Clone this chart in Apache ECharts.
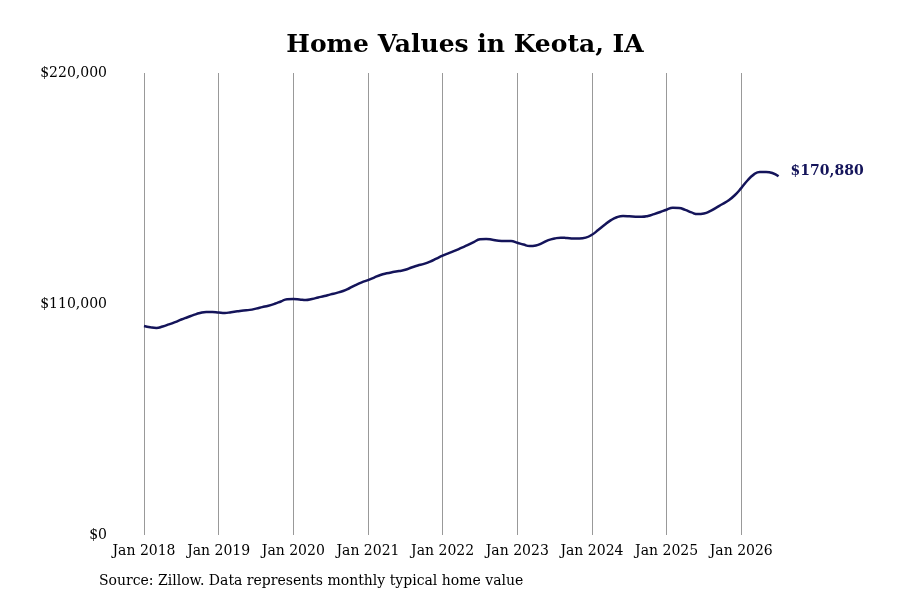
<!DOCTYPE html>
<html><head><meta charset="utf-8">
<script src="https://cdn.jsdelivr.net/npm/echarts@6/dist/echarts.min.js"></script>
<style>html,body{margin:0;padding:0;background:#fff}#c{width:900px;height:600px}</style>
</head><body><div id="c"></div>
<script>
const yearLabels = ["Jan 2018","Jan 2019","Jan 2020","Jan 2021","Jan 2022","Jan 2023","Jan 2024","Jan 2025","Jan 2026"];
const yTicks = [0, 110000, 220000];
const v2018 = [99.5, 98.9, 98.6, 99.3, 100.3, 101.4, 102.6, 103.7, 104.8, 105.7, 106.2, 106.2];
const v2019 = [105.9, 105.7, 106.1, 106.5, 106.9, 107.2, 107.8, 108.5, 109.2, 110.1, 111.2, 112.3];
const v2020 = [112.4, 112.2, 111.9, 112.4, 113.1, 113.8, 114.6, 115.3, 116.2, 117.5, 119.0, 120.3];
const v2021 = [121.4, 122.6, 123.8, 124.6, 125.2, 125.7, 126.3, 127.4, 128.3, 129.1, 130.2, 131.6];
const v2022 = [133.0, 134.2, 135.4, 136.7, 138.0, 139.5, 140.8, 141.0, 140.6, 140.1, 140.0, 140.0];
const v2023 = [139.2, 138.3, 137.6, 137.9, 139.0, 140.4, 141.2, 141.6, 141.4, 141.2, 141.2, 141.6];
const v2024 = [143.0, 145.2, 147.6, 149.8, 151.3, 151.9, 151.8, 151.6, 151.5, 151.9, 152.8, 153.8];
const v2025 = [154.9, 155.8, 155.7, 154.8, 153.6, 152.8, 153.1, 154.2, 155.9, 157.6, 159.4, 161.9];
const v2026 = [165.2, 168.8, 171.6, 172.9, 172.9, 172.4, 170.88];
const values = [].concat(v2018,v2019,v2020,v2021,v2022,v2023,v2024,v2025,v2026).map(v=>Math.round(v*1000));
const data = values.map((v,i)=>[i,v]);
const navy = '#14145a';
const font = 'DejaVu Serif';
const chart = echarts.init(document.getElementById('c'));
chart.setOption({
  animation:false,
  title:{text:'Home Values in Keota, IA',left:460,top:28,textAlign:'center',
    textStyle:{fontFamily:font,fontWeight:'bold',fontSize:25,color:'#000'}},
  graphic:[{type:'text',left:99,top:574,style:{text:'Source: Zillow. Data represents monthly typical home value',
    font:'14px "DejaVu Serif"',fill:'#000'}}],
  grid:{left:144,top:73,width:647,height:462},
  xAxis:{type:'value',min:0,max:104,interval:12,
    axisLine:{show:false},axisTick:{show:false},
    splitLine:{show:true,showMaxLine:false,lineStyle:{color:'#999',width:1}},
    axisLabel:{fontFamily:font,fontSize:14,color:'#000',margin:9,showMaxLabel:false,
      formatter:v=>yearLabels[v/12]||''}},
  yAxis:{type:'value',min:0,max:220000,interval:110000,
    axisLine:{show:false},axisTick:{show:false},splitLine:{show:false},
    axisLabel:{fontFamily:font,fontSize:14,color:'#000',margin:37,verticalAlign:'middle',
      formatter:v=>'$'+v.toLocaleString('en-US')}},
  series:[{type:'line',data:data,showSymbol:false,smooth:true,
    lineStyle:{color:navy,width:2.5},
    endLabel:{show:true,distance:12,fontFamily:font,fontWeight:'bold',fontSize:14,color:navy,
      offset:[0,-5],formatter:p=>'$'+p.value[1].toLocaleString('en-US')}}]
});
</script></body></html>
